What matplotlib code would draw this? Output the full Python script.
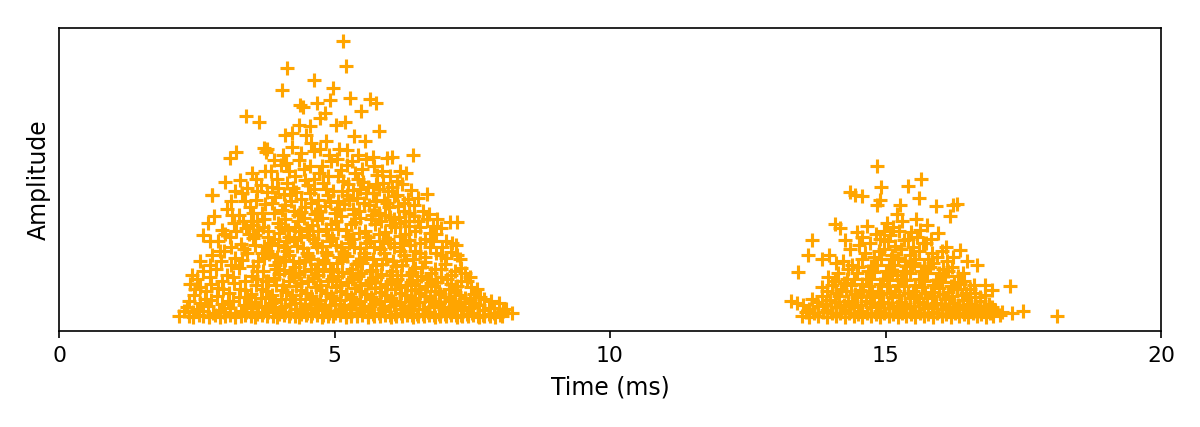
import matplotlib
matplotlib.use("Agg")
import matplotlib.pyplot as plt

x_label = "Time (ms)"
y_label = "Amplitude"
x_ticks = [0, 5, 10, 15, 20]

# (time in ms, amplitude)
burst1_top = [
 (5.16,290),(5.20,265),(4.14,263),(4.05,241),(4.62,251),(4.97,243),(4.38,226),(4.43,224),(4.68,228),(4.92,231),
 (5.28,233),(5.64,232),(5.75,228),(5.48,220),(3.39,215),(3.63,209),(5.81,200),(3.10,173),(3.22,179),(3.72,183),
 (3.78,182),(3.76,179),(4.10,196),(4.23,198),(4.48,196),(4.74,213),(4.83,218),(5.03,206),(5.19,209),(6.42,176),
 (6.04,174),(5.95,173),(5.69,174),(5.22,181),(7.09,109),(7.22,109),(6.72,117),(2.78,136),(4.35,206),(4.55,205),
 (5.36,195),(5.56,190),(3.84,160),(4.02,166),(4.62,180),(4.85,190),(5.08,182),(5.42,176),(6.18,160),(6.30,158),
]
burst1_upper = [
 (3.02,149),(3.28,151),(3.50,158),(3.66,146),(3.95,152),(4.18,160),(4.36,171),(4.55,165),(4.72,158),(4.94,170),
 (5.12,161),(5.31,170),(5.50,162),(5.78,156),(5.88,148),(6.05,144),(6.22,147),(6.38,141),(6.52,133),(6.68,137),
 (2.77,136),(3.12,130),(3.33,138),(3.58,131),(3.78,139),(3.98,143),(4.14,148),(4.30,139),(4.46,151),(4.63,142),
 (4.80,148),(4.98,140),(5.16,150),(5.34,141),(5.52,149),(5.70,138),(5.90,131),(6.08,135),(6.26,128),(6.44,126),
 (6.60,120),(6.86,112),(2.82,115),(3.05,122),(3.26,116),(3.46,124),(3.68,118),(3.86,128),(4.04,121),(4.21,130),
 (4.39,119),(4.57,128),(4.74,120),(4.91,129),(5.09,122),(5.27,131),(5.45,120),(5.63,126),(5.81,118),(5.99,124),
 (6.17,114),(6.35,118),(6.52,110),(6.78,105),(2.70,108),(2.95,101),(3.18,108),(3.40,103),(3.60,110),(3.80,100),
]
burst1_mid = [
 (3.98,108),(4.16,101),(4.33,110),(4.50,103),(4.68,111),(4.85,102),(5.02,110),(5.20,101),(5.38,109),(5.56,100),
 (5.74,107),(5.92,99),(6.10,104),(6.28,97),(6.46,100),(6.64,92),(6.84,97),(7.02,90),(7.20,86),(2.62,96),
 (2.88,90),(3.10,94),(3.31,87),(3.52,93),(3.72,85),(3.91,92),(4.09,84),(4.26,91),(4.43,83),(4.61,92),
 (4.78,85),(4.95,93),(5.12,84),(5.30,92),(5.47,83),(5.65,90),(5.83,82),(6.01,88),(6.19,80),(6.37,86),
 (6.55,78),(6.73,84),(6.93,76),(7.12,79),(7.28,72),(2.78,76),(3.00,80),(3.20,73),(3.42,78),(3.62,70),
 (3.82,77),(4.00,69),(4.18,76),(4.35,68),(4.52,75),(4.70,67),(4.87,76),(5.04,68),(5.22,75),(5.39,67),
 (5.57,74),(5.75,66),(5.93,72),(6.11,65),(6.29,71),(6.47,63),(6.65,69),(6.83,62),(7.01,67),(7.19,60),
 (7.37,58),(2.42,56),(2.62,60),(2.85,62),(3.05,56),(3.27,63),(3.50,55),(3.70,60),(3.90,53),(4.08,61),
 (4.26,54),(4.44,60),(4.61,53),(4.79,60),(4.96,52),(5.14,59),(5.31,52),(5.49,58),(5.67,51),(5.85,57),
 (6.03,50),(6.21,56),(6.39,49),(6.57,55),(6.75,48),(6.93,54),(7.11,47),(7.29,50),(7.47,44),
]
burst1_low = [
 (2.38,47),(2.55,44),(2.76,47),(2.98,42),(3.18,48),(3.38,41),(3.58,46),(3.76,40),(3.94,46),(4.12,39),
 (4.30,45),(4.48,38),(4.66,44),(4.84,38),(5.02,44),(5.20,37),(5.38,43),(5.56,37),(5.74,43),(5.92,36),
 (6.10,42),(6.28,36),(6.46,41),(6.64,35),(6.82,40),(7.00,34),(7.18,39),(7.36,33),(7.54,37),(7.72,32),
 (2.45,36),(2.65,32),(2.86,35),(3.06,30),(3.26,34),(3.46,29),(3.66,33),(3.84,28),(4.02,32),(4.20,27),
 (4.38,32),(4.56,27),(4.74,31),(4.92,26),(5.10,31),(5.28,26),(5.46,30),(5.64,25),(5.82,30),(6.00,25),
 (6.18,29),(6.36,24),(6.54,29),(6.72,24),(6.90,28),(7.08,24),(7.26,27),(7.44,23),(7.62,26),(7.80,23),
 (7.98,28),(8.12,22),(2.32,24),(2.50,22),(2.70,25),(2.90,21),(3.10,23),(3.30,20),(3.50,23),(3.70,19),
 (3.90,22),(4.10,19),(4.30,22),(4.50,18),(4.70,21),(4.90,18),(5.10,21),(5.30,18),(5.50,20),(5.70,17),
 (5.90,20),(6.10,17),(6.30,20),(6.50,17),(6.70,19),(6.90,17),(7.10,19),(7.30,16),(7.50,18),(7.70,16),
 (7.90,18),(2.18,15),(2.36,15),(2.54,16),(2.72,14),(2.84,16),(3.02,15),(3.20,14),(3.38,16),(3.56,14),
 (3.78,15),(3.96,14),(4.18,15),(4.36,14),(4.58,15),(4.78,14),(4.98,15),(5.20,14),(5.40,15),(5.60,14),
 (5.82,15),(6.02,14),(6.22,15),(6.42,14),(6.62,15),(6.82,14),(7.02,15),(7.22,14),(7.42,15),(7.62,14),
 (7.82,15),(8.04,15),(8.22,18),
]
burst1_fill_high = [
 (3.58,152),(3.74,160),(3.90,171),(4.06,176),(4.22,184),(4.40,178),(4.58,188),(4.74,182),(4.90,176),(5.04,172),
 (5.22,166),(5.38,158),(5.58,172),(5.72,165),(5.86,160),(6.00,155),(6.14,150),(4.12,168),(4.28,155),(4.44,162),
 (4.62,152),(4.78,165),(4.88,155),(5.06,155),(5.24,147),(5.42,152),(5.60,144),(5.76,147),(5.98,140),(6.14,136),
 (3.42,143),(3.60,140),(3.86,144),(4.08,137),(4.24,143),(4.40,132),(4.56,138),(4.70,131),(4.88,136),(5.06,130),
 (5.22,136),(5.40,133),(5.58,138),(5.76,130),(5.96,128),(6.16,125),(6.34,132),(3.20,140),(3.38,130),(3.52,118),
 (3.74,127),(3.92,134),(4.10,126),(4.26,120),(4.46,124),(4.64,117),(4.82,125),(5.00,118),(5.18,127),(5.36,117),
 (5.54,128),(5.72,121),(5.92,116),(6.08,112),(6.26,120),(6.44,115),(6.68,112),(3.14,116),(3.34,110),(3.52,106),
 (3.72,112),(3.90,118),(4.10,112),(4.28,104),(4.44,113),(4.60,106),(4.78,113),(4.94,107),(5.12,115),(5.30,107),
 (5.46,113),(5.66,112),(5.84,110),(6.02,106),(6.18,108),(6.36,105),(6.56,104),(6.74,98),(6.94,103),
]
burst1_fill_mid = [
 (2.74,90),(3.02,97),(3.22,100),(3.44,97),(3.62,101),(3.80,94),(4.00,98),(4.18,94),(4.36,100),(4.54,96),
 (4.70,100),(4.88,96),(5.06,102),(5.24,95),(5.44,98),(5.60,94),(5.80,97),(5.98,92),(6.18,95),(6.36,91),
 (6.56,88),(6.78,90),(6.96,84),(7.14,88),(2.92,80),(3.12,84),(3.36,82),(3.56,86),(3.78,80),(3.98,86),
 (4.14,80),(4.32,85),(4.50,78),(4.68,84),(4.84,79),(5.02,86),(5.18,78),(5.36,84),(5.54,78),(5.72,84),
 (5.90,78),(6.08,84),(6.26,76),(6.46,80),(6.64,74),(6.84,78),(7.02,73),(7.22,76),(2.56,70),(2.74,66),
 (2.94,70),(3.12,66),(3.32,71),(3.52,65),(3.72,73),(3.92,66),(4.10,71),(4.28,64),(4.46,71),(4.64,62),
 (4.80,71),(4.98,62),(5.14,70),(5.32,62),(5.50,68),(5.68,61),(5.86,67),(6.04,60),(6.22,66),(6.40,59),
 (6.58,64),(6.76,58),(6.94,62),(7.12,56),(7.30,63),(7.46,54),(2.50,52),(2.74,54),(2.96,50),(3.16,54),
 (3.38,50),(3.60,52),(3.80,50),(4.00,57),(4.18,50),(4.36,57),(4.52,50),(4.70,56),(4.88,50),(5.06,55),
 (5.24,49),(5.42,55),(5.60,48),(5.78,54),(5.96,47),(6.14,52),(6.32,46),(6.50,51),(6.68,45),(6.86,49),
 (7.04,52),(7.22,45),(7.40,50),(7.58,42),
]
burst1_fill_low = [
 (2.46,42),(2.66,40),(2.88,43),(3.08,38),(3.28,42),(3.48,37),(3.68,42),(3.86,36),(4.04,41),(4.22,36),
 (4.40,41),(4.58,35),(4.76,41),(4.94,35),(5.12,40),(5.30,34),(5.48,40),(5.66,34),(5.84,39),(6.02,33),
 (6.20,38),(6.38,33),(6.56,38),(6.74,32),(6.92,37),(7.10,32),(7.28,36),(7.46,31),(7.64,34),(7.84,30),
 (2.36,30),(2.56,28),(2.76,31),(2.96,27),(3.16,30),(3.36,26),(3.56,29),(3.74,25),(3.92,29),(4.10,25),
 (4.28,28),(4.46,24),(4.64,28),(4.82,24),(5.00,27),(5.18,24),(5.36,27),(5.54,23),(5.72,27),(5.90,23),
 (6.08,26),(6.26,22),(6.44,26),(6.62,22),(6.80,25),(6.98,22),(7.16,25),(7.34,21),(7.52,24),(7.70,21),
 (7.90,23),(8.06,20),(2.26,20),(2.44,19),(2.62,20),(2.80,18),(3.00,19),(3.20,18),(3.40,19),(3.60,17),
 (3.80,19),(4.00,17),(4.20,18),(4.40,17),(4.60,18),(4.80,16),(5.00,18),(5.20,16),(5.40,18),(5.60,16),
 (5.80,18),(6.00,16),(6.20,18),(6.40,16),(6.60,17),(6.80,16),(7.00,17),(7.20,16),(7.40,17),(7.60,15),
 (7.80,17),(8.00,16),(2.44,14),(2.62,15),(2.92,14),(3.10,16),(3.30,15),(3.48,15),(3.68,16),(3.88,15),
 (4.08,16),(4.28,15),(4.48,16),(4.68,16),(4.88,15),(5.10,16),(5.30,15),(5.50,16),(5.72,15),(5.92,16),
 (6.12,15),(6.32,16),(6.52,15),(6.72,16),(6.92,15),(7.12,16),(7.32,15),(7.52,16),(7.72,15),(7.92,14),
]
burst1_core = [
 (3.56,96),(3.68,78),(3.84,88),(3.96,74),(4.12,90),(4.24,70),(4.40,94),(4.56,72),(4.66,88),(4.82,68),
 (4.92,90),(5.08,74),(5.26,88),(5.44,70),(5.58,88),(5.70,72),(5.88,90),(6.06,70),(6.24,88),(6.42,72),
 (3.60,60),(3.76,50),(3.94,62),(4.06,46),(4.22,58),(4.40,48),(4.58,62),(4.74,46),(4.92,60),(5.10,46),
 (5.28,58),(5.46,46),(5.64,60),(5.82,44),(6.00,56),(6.18,44),(6.36,56),(6.54,42),(6.72,52),(6.90,40),
 (7.08,42),(3.42,34),(3.62,24),(3.82,34),(4.02,24),(4.20,32),(4.42,22),(4.60,32),(4.80,22),(4.98,33),
 (5.16,22),(5.34,32),(5.52,22),(5.70,32),(5.88,22),(6.06,30),(6.24,22),(6.42,30),(6.60,22),(6.78,30),
 (6.96,24),(7.14,30),(7.32,24),(7.50,28),(3.70,104),(4.02,104),(4.34,116),(4.68,120),(5.04,122),(5.34,122),
 (5.68,116),(6.00,114),(4.20,136),(4.52,146),(4.84,142),(5.14,140),(5.46,142),(5.80,142),(6.28,110),(3.48,110),
]
burst2_top = [
 (14.85,165),(14.36,139),(14.45,136),(14.57,135),(14.92,144),(15.41,145),(15.64,152),(14.90,131),(14.85,126),(15.26,126),
 (15.61,133),(15.92,125),(16.22,126),(16.30,127),(16.17,115),(13.67,91),(13.41,59),(13.59,76),(14.08,107),(14.17,103),
 (14.26,91),(14.48,99),(14.57,94),(16.35,81),(16.66,66),(16.81,46),(17.26,45),(16.93,41),(18.11,15),(17.50,20),
 (17.30,18),(17.11,19),(17.08,16),(13.28,30),(13.39,28),(13.50,26),(15.03,108),(15.20,117),(15.55,112),(15.76,106),
 (15.96,98),(16.10,84),(16.48,70),(13.84,72),(13.98,76),(14.10,68),
]
burst2_upper = [
 (14.66,105),(14.82,97),(14.98,100),(15.14,104),(15.30,110),(15.46,99),(15.62,101),(15.82,92),(14.35,82),(14.52,86),
 (14.72,88),(14.88,80),(15.04,90),(15.18,85),(15.34,91),(15.50,84),(15.68,88),(15.85,78),(16.02,80),(16.22,74),
 (14.22,70),(14.40,66),(14.58,72),(14.74,65),(14.92,72),(15.06,66),(15.22,73),(15.38,65),(15.54,72),(15.70,65),
 (15.86,68),(16.04,62),(16.20,64),(16.40,58),(13.95,54),(14.14,58),(14.30,52),(14.48,58),(14.64,52),(14.80,59),
 (14.96,52),(15.12,58),(15.28,52),(15.44,58),(15.60,52),(15.76,58),(15.92,51),(16.08,55),(16.24,49),(16.42,50),
 (16.60,46),
]
burst2_low = [
 (13.85,44),(14.02,46),(14.20,42),(14.38,46),(14.54,41),(14.70,45),(14.86,40),(15.02,45),(15.18,40),(15.34,45),
 (15.50,40),(15.66,44),(15.82,39),(15.98,43),(16.14,39),(16.30,42),(16.46,38),(16.62,38),(16.80,36),(13.66,32),
 (13.84,35),(14.00,31),(14.16,35),(14.32,30),(14.48,34),(14.64,30),(14.80,34),(14.96,29),(15.12,34),(15.28,29),
 (15.44,33),(15.60,29),(15.76,33),(15.92,28),(16.08,32),(16.24,28),(16.40,31),(16.56,27),(16.72,30),(16.88,27),
 (13.62,22),(13.78,25),(13.94,21),(14.10,24),(14.26,21),(14.42,24),(14.58,20),(14.74,24),(14.90,20),(15.06,23),
 (15.22,20),(15.38,23),(15.54,20),(15.70,23),(15.86,19),(16.02,22),(16.18,19),(16.34,22),(16.50,19),(16.66,21),
 (16.82,19),(16.98,21),(13.48,15),(13.62,14),(13.78,15),(13.94,14),(14.10,15),(14.26,14),(14.42,15),(14.58,14),
 (14.74,15),(14.90,14),(15.06,15),(15.22,14),(15.38,15),(15.54,14),(15.70,15),(15.86,14),(16.02,15),(16.18,14),
 (16.34,15),(16.50,14),(16.66,15),(16.82,14),(16.96,15),
]
burst2_fill = [
 (14.90,92),(15.08,96),(15.24,100),(15.40,92),(15.58,94),(15.74,88),(14.62,78),(14.80,74),(14.98,82),(15.12,76),
 (15.28,82),(15.44,76),(15.60,80),(15.78,72),(15.94,74),(16.12,70),(14.32,62),(14.50,64),(14.68,60),(14.84,66),
 (15.00,60),(15.16,66),(15.32,60),(15.48,65),(15.64,60),(15.80,64),(15.98,58),(16.14,60),(16.32,55),(14.08,50),
 (14.24,48),(14.42,52),(14.58,47),(14.74,52),(14.90,47),(15.06,51),(15.22,46),(15.38,51),(15.54,46),(15.70,50),
 (15.86,46),(16.02,49),(16.18,45),(16.36,47),(16.54,42),(13.94,40),(14.10,38),(14.28,40),(14.44,37),(14.60,40),
 (14.76,37),(14.92,37),(15.08,38),(15.24,36),(15.40,38),(15.56,36),(15.72,38),(15.88,35),(16.04,37),(16.20,35),
 (16.38,36),(16.54,34),(16.72,34),(13.76,29),(13.92,27),(14.08,29),(14.24,26),(14.40,28),(14.56,26),(14.72,28),
 (14.88,26),(15.04,28),(15.20,25),(15.36,27),(15.52,25),(15.68,27),(15.84,25),(16.00,27),(16.16,24),(16.32,26),
 (16.48,24),(16.64,25),(16.80,24),(16.94,24),(13.56,19),(13.70,18),(13.86,19),(14.02,18),(14.18,18),(14.34,18),
 (14.50,17),(14.66,18),(14.82,17),(14.98,18),(15.14,17),(15.30,18),(15.46,17),(15.62,18),(15.78,17),(15.94,18),
 (16.10,17),(16.26,18),(16.42,17),(16.58,18),(16.74,17),(16.90,18),(15.10,72),(15.36,70),(15.52,68),(15.20,56),
]

groups = [burst1_top, burst1_upper, burst1_mid, burst1_low,
          burst1_fill_high, burst1_fill_mid, burst1_fill_low, burst1_core,
          burst2_top, burst2_upper, burst2_low, burst2_fill]

fig = plt.figure(figsize=(8, 427 / 150), dpi=150)
ax = fig.add_axes([59 / 1200, 1 - 331 / 427, (1161 - 59) / 1200, (331 - 28) / 427])
for g in groups:
    ax.scatter([p[0] for p in g], [p[1] for p in g], marker="+", s=50,
               color="orange", linewidths=1.5)
ax.set_xlim(0, 20)
ax.set_ylim(0, 303)
ax.set_xticks(x_ticks)
ax.set_yticks([])
ax.tick_params(axis="x", labelsize=10.5)
ax.set_xlabel(x_label, fontsize=11.3, labelpad=5)
ax.set_ylabel(y_label, fontsize=11.3, labelpad=4)
fig.savefig("out.png", dpi=150)
